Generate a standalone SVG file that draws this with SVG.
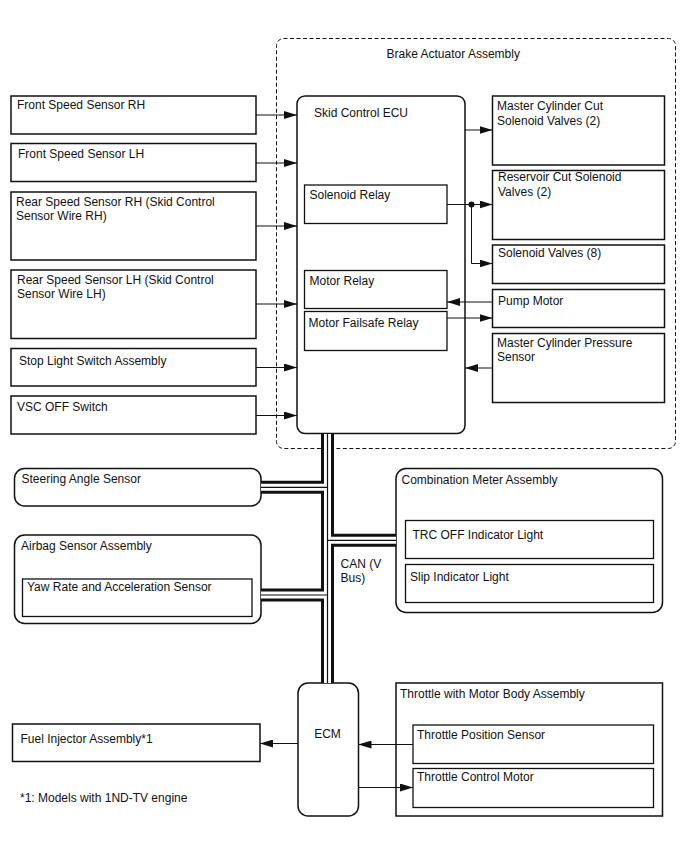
<svg xmlns="http://www.w3.org/2000/svg" width="688" height="852" viewBox="0 0 688 852">
<style>
text{font-family:"Liberation Sans",Arial,sans-serif;font-size:12px;fill:#111}
.box{fill:#fff;stroke:#111;stroke-width:1.5}
.inner{fill:none;stroke:#111;stroke-width:1.3}
.ln{fill:none;stroke:#111;stroke-width:1}
.arr{marker-end:url(#ah)}
.busB{fill:none;stroke:#111;stroke-width:13}
.busW{fill:none;stroke:#fff;stroke-width:7}
.busC{fill:none;stroke:#111;stroke-width:1.2}
</style>
<defs>
<marker id="ah" markerUnits="userSpaceOnUse" markerWidth="13" markerHeight="8" refX="13" refY="4" orient="auto">
<path d="M0,0 L13,4 L0,8 z" fill="#111"/>
</marker>
</defs>
<rect width="688" height="852" fill="#fff"/>

<g id="brake-actuator">
<rect x="276.5" y="38.5" width="399" height="410" rx="7" fill="none" stroke="#111" stroke-width="1" stroke-dasharray="4,2.5"/>
<text x="386.5" y="57.5">Brake Actuator Assembly</text>
</g>

<g id="front-rh"><rect class="box" x="11" y="96" width="245" height="38"/><text x="17" y="109">Front Speed Sensor RH</text></g>
<g id="front-lh"><rect class="box" x="11" y="143.5" width="245" height="38"/><text x="18" y="158">Front Speed Sensor LH</text></g>
<g id="rear-rh"><rect class="box" x="11" y="192" width="245" height="68"/><text x="16" y="206">Rear Speed Sensor RH (Skid Control</text><text x="16" y="220">Sensor Wire RH)</text></g>
<g id="rear-lh"><rect class="box" x="11" y="270" width="245" height="68.5"/><text x="17" y="283.5">Rear Speed Sensor LH (Skid Control</text><text x="17" y="297.5">Sensor Wire LH)</text></g>
<g id="stop-light"><rect class="box" x="11" y="348.5" width="245" height="37.5"/><text x="19" y="364.5">Stop Light Switch Assembly</text></g>
<g id="vsc-off"><rect class="box" x="11" y="396" width="245" height="38"/><text x="17" y="411">VSC OFF Switch</text></g>

<g id="skid-ecu">
<rect class="box" x="297" y="96" width="168" height="337.5" rx="8"/>
<text x="314" y="116.5">Skid Control ECU</text>
<g id="solenoid-relay"><rect class="inner" x="304.5" y="185" width="142.5" height="38.5"/><text x="309.5" y="198.5">Solenoid Relay</text></g>
<g id="motor-relay"><rect class="inner" x="304.5" y="270.5" width="142.5" height="38"/><text x="309.5" y="284.5">Motor Relay</text></g>
<g id="motor-failsafe-relay"><rect class="inner" x="304.5" y="311.5" width="142.5" height="39"/><text x="308.5" y="327">Motor Failsafe Relay</text></g>
</g>

<g id="mc-cut"><rect class="box" x="492.5" y="96" width="172" height="69"/><text x="497" y="109.5">Master Cylinder Cut</text><text x="497" y="124.5">Solenoid Valves (2)</text></g>
<g id="reservoir-cut"><rect class="box" x="492.5" y="170.5" width="172" height="69"/><text x="498" y="180.5">Reservoir Cut Solenoid</text><text x="498" y="195.5">Valves (2)</text></g>
<g id="solenoid-valves"><rect class="box" x="492.5" y="245" width="172" height="38.5"/><text x="498" y="257">Solenoid Valves (8)</text></g>
<g id="pump-motor"><rect class="box" x="492.5" y="289.5" width="172" height="38"/><text x="498" y="304.5">Pump Motor</text></g>
<g id="mc-pressure"><rect class="box" x="492.5" y="333.5" width="172" height="69"/><text x="497" y="346.5">Master Cylinder Pressure</text><text x="497" y="360.5">Sensor</text></g>

<g id="steering"><rect class="box" x="14.5" y="468.5" width="246.5" height="37.5" rx="10"/><text x="21.5" y="483">Steering Angle Sensor</text></g>
<g id="airbag">
<rect class="box" x="14.5" y="535" width="246.5" height="88.5" rx="10"/>
<text x="21" y="549.5">Airbag Sensor Assembly</text>
<g id="yaw-rate"><rect class="inner" x="22.5" y="579" width="229.5" height="37.5"/><text x="27" y="590.5">Yaw Rate and Acceleration Sensor</text></g>
</g>

<g id="combination-meter">
<rect class="box" x="396" y="468.5" width="266.5" height="144" rx="10"/>
<text x="401.5" y="483.5">Combination Meter Assembly</text>
<g id="trc-off"><rect class="inner" x="405.5" y="520.5" width="248" height="38"/><text x="412.5" y="538.5">TRC OFF Indicator Light</text></g>
<g id="slip"><rect class="inner" x="405.5" y="564.5" width="248" height="38"/><text x="410" y="581">Slip Indicator Light</text></g>
</g>

<g id="ecm"><rect class="box" x="298" y="683" width="60.5" height="133" rx="10"/><text x="327.5" y="738" text-anchor="middle">ECM</text></g>

<g id="throttle-body">
<rect class="box" x="396" y="683" width="266.5" height="133"/>
<text x="400" y="697.5">Throttle with Motor Body Assembly</text>
<g id="tps"><rect class="inner" x="413" y="725" width="240.5" height="38.5"/><text x="417" y="738.5">Throttle Position Sensor</text></g>
<g id="tcm"><rect class="inner" x="413" y="768.5" width="240.5" height="39"/><text x="417" y="781">Throttle Control Motor</text></g>
</g>

<g id="fuel-injector"><rect class="box" x="12.5" y="724" width="247.5" height="37.5"/><text x="20.5" y="743">Fuel Injector Assembly*1</text></g>

<g id="connectors">
<path class="ln arr" d="M256,115 H297"/>
<path class="ln arr" d="M256,163 H297"/>
<path class="ln arr" d="M256,226 H297"/>
<path class="ln arr" d="M256,304 H297"/>
<path class="ln arr" d="M256,367.5 H297"/>
<path class="ln arr" d="M256,415.5 H297"/>
<path class="ln arr" d="M465,130 H492.5"/>
<path class="ln arr" d="M447,204.5 H492.5"/>
<path class="ln arr" d="M471.5,204.5 V263.5 H492.5"/>
<circle cx="471.5" cy="204.5" r="3" fill="#111"/>
<path class="ln arr" d="M492.5,302 H447"/>
<path class="ln arr" d="M447,318 H492.5"/>
<path class="ln arr" d="M492.5,368 H465"/>
<path class="ln arr" d="M298,743.5 H260"/>
<path class="ln arr" d="M413,744.5 H358.5"/>
<path class="ln arr" d="M358.5,787.5 H413"/>
<g id="can-bus">
<path class="busB" d="M327.5,434 V683 M261,487.3 H327.5 M261,595 H327.5 M327.5,540.3 H396"/>
<path class="busW" d="M327.5,434 V683 M261,487.3 H327.5 M261,595 H327.5 M327.5,540.3 H396"/>
<path class="busC" d="M327.5,434 V683 M261,487.3 H327.5 M261,595 H327.5 M327.5,540.3 H396"/>
</g>
<text x="340.5" y="567.5">CAN (V</text>
<text x="340.5" y="582">Bus)</text>
</g>

<text x="20" y="802">*1: Models with 1ND-TV engine</text>
</svg>
